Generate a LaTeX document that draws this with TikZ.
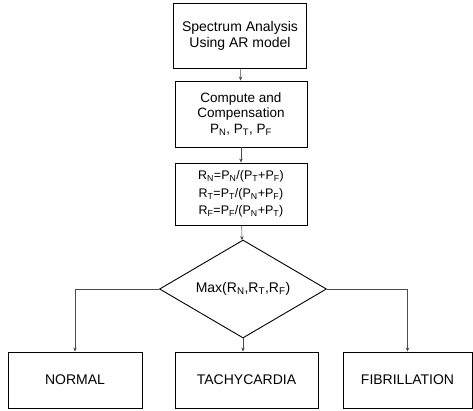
\documentclass[tikz,border=0pt]{standalone}
\usepackage{fontspec}
\setmainfont{Liberation Sans}
\usetikzlibrary{shapes.geometric,arrows.meta}
\begin{document}
\begin{tikzpicture}[x=1pt,y=-1pt,
 box/.style={draw,line width=0.9pt,align=center,font=\fontsize{14}{16.5}\selectfont,inner sep=0pt},
 conn/.style={line width=0.5pt,draw=black!70,-{Stealth[length=4pt,width=3.5pt]}},
]
\useasboundingbox (0,0) rectangle (473,410);
\node[box,minimum width=133,minimum height=65] (a) at (240,36) {Spectrum Analysis\\Using AR model};
\node[box,minimum width=132,minimum height=66,font=\fontsize{13.5}{15.5}\selectfont] (b) at (241,114) {Compute and\\Compensation\\P\textsubscript{N}, P\textsubscript{T}, P\textsubscript{F}};
\node[box,minimum width=132,minimum height=62,font=\fontsize{12.5}{17.5}\selectfont] (c) at (241,194) {R\textsubscript{N}=P\textsubscript{N}/(P\textsubscript{T}+P\textsubscript{F})\\R\textsubscript{T}=P\textsubscript{T}/(P\textsubscript{N}+P\textsubscript{F})\\R\textsubscript{F}=P\textsubscript{F}/(P\textsubscript{N}+P\textsubscript{T})};
\node[box,diamond,aspect=1.7,minimum width=167,minimum height=98] (d) at (243,289) {Max(R\textsubscript{N},R\textsubscript{T},R\textsubscript{F})};
\node[box,minimum width=134,minimum height=56] (n) at (75,380) {NORMAL};
\node[box,minimum width=143,minimum height=56] (t) at (246.5,380) {TACHYCARDIA};
\node[box,minimum width=129,minimum height=56] (f) at (407.5,380) {FIBRILLATION};
\draw[conn] (a) -- (b);
\draw[conn] (b) -- (c);
\draw[conn] (c) -- (d);
\draw[conn] (d.west) -| (n.north);
\draw[conn] (d.south) -- (d.south |- t.north);
\draw[conn] (d.east) -| (f.north);
\end{tikzpicture}
\end{document}
